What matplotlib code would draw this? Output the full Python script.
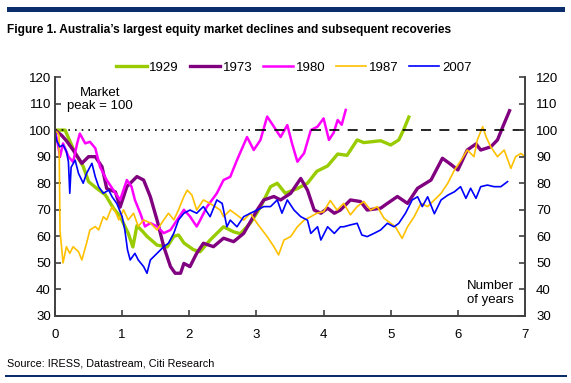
import matplotlib
matplotlib.use("Agg")
import matplotlib.pyplot as plt
from matplotlib.patches import Rectangle

plt.rcParams['font.family'] = ['Liberation Sans', 'DejaVu Sans']

# years after market peak, index (peak = 100)
t1929 = [0, 0.15, 0.3, 0.42, 0.5, 0.62, 0.75, 0.87, 0.97, 1.09,
         1.16, 1.22, 1.3, 1.37, 1.52, 1.67, 1.77, 1.84, 1.92, 2.06,
         2.16, 2.31, 2.51, 2.66, 2.76, 2.91, 3.06, 3.21, 3.31, 3.43,
         3.61, 3.76, 3.9, 4.06, 4.21, 4.35, 4.5, 4.6, 4.85, 5.0,
         5.12, 5.19, 5.27]
v1929 = [100, 100, 91.3, 86.3, 80.6, 78.1, 75.6, 70.6, 67.5, 61.2,
         56, 64, 62, 60, 56.7, 56, 60, 60.5, 57.5, 55,
         54.2, 58.6, 63.6, 61.7, 61, 65, 71, 78.7, 80, 76.2,
         78, 80, 84.5, 86.5, 91, 90.5, 96.3, 95.3, 96, 94.4,
         96.3, 100, 104.9]

t1973 = [0, 0.1, 0.17, 0.27, 0.4, 0.5, 0.6, 0.7, 0.77, 0.9, 0.97,
         1.07, 1.22, 1.32, 1.42, 1.52, 1.62, 1.72, 1.79, 1.87, 1.92,
         2.01, 2.11, 2.21, 2.36, 2.51, 2.66, 2.81, 3.01, 3.11, 3.26,
         3.36, 3.51, 3.66, 3.76, 3.86, 3.96, 4.06, 4.16, 4.25, 4.4,
         4.55, 4.65, 4.85, 4.95, 5.1, 5.25, 5.4, 5.6, 5.77, 5.9,
         6.0, 6.14, 6.27, 6.34, 6.49, 6.59, 6.67, 6.77]
v1973 = [100, 98, 96, 92.5, 87.5, 90, 90, 86.2, 78, 76.7, 71,
         78.7, 82.5, 81.2, 74.9, 66.1, 56.1, 48.6, 46.1, 46.1, 49.8,
         48.6, 53.6, 57.4, 56.1, 59.3, 58, 61.1, 69.9, 73.7, 75,
         73.7, 76.2, 81.8, 77.4, 69.9, 68.7, 70.6, 68.7, 69.9, 73.7,
         73.1, 69.9, 70.6, 72.4, 75, 72.4, 78.1, 81.2, 89.4, 87,
         85, 92.5, 94.8, 92.5, 93.7, 96.3, 101.3, 107.3]

t1980 = [0, 0.05, 0.075, 0.12, 0.2, 0.27, 0.33, 0.37, 0.45, 0.52,
         0.6, 0.67, 0.77, 0.87, 0.97, 1.07, 1.14, 1.19, 1.27, 1.34,
         1.42, 1.52, 1.62, 1.72, 1.82, 1.92, 2.01, 2.11, 2.16, 2.26,
         2.41, 2.51, 2.61, 2.71, 2.86, 2.96, 3.06, 3.16, 3.26, 3.36,
         3.46, 3.53, 3.61, 3.71, 3.81, 3.91, 4.0, 4.08, 4.15, 4.21,
         4.27, 4.33]
v1980 = [100, 93.7, 90, 95, 90, 88, 95, 98.7, 95, 95.6,
         93.2, 86.2, 81.2, 77.4, 73.7, 81.2, 78.7, 73.7, 68.7, 63.7,
         65, 63.7, 61.2, 62.4, 66.2, 70, 67.5, 63.7, 66, 71,
         76.2, 81.2, 82.4, 88.7, 97.4, 92.5, 96.3, 105.1, 101.3, 97.4,
         101.9, 95, 88.1, 91.3, 100, 101.3, 104.4, 96.3, 99, 103.8,
         102, 107.6]

t1987 = [0, 0.04, 0.06, 0.075, 0.12, 0.17, 0.22, 0.27, 0.35, 0.4,
         0.47, 0.52, 0.6, 0.65, 0.72, 0.77, 0.85, 0.9, 0.95, 1.02,
         1.09, 1.17, 1.24, 1.32, 1.42, 1.52, 1.62, 1.69, 1.77, 1.84,
         1.92, 1.97, 2.04, 2.11, 2.21, 2.31, 2.46, 2.51, 2.61, 2.81,
         2.91, 3.01, 3.16, 3.26, 3.33, 3.41, 3.51, 3.61, 3.71, 3.81,
         3.9, 4.0, 4.1, 4.2, 4.3, 4.4, 4.5, 4.6, 4.7, 4.8,
         4.9, 5.0, 5.07, 5.17, 5.25, 5.35, 5.45, 5.55, 5.65, 5.75,
         5.85, 5.95, 6.05, 6.14, 6.24, 6.29, 6.37, 6.42, 6.49, 6.59,
         6.69, 6.79, 6.86, 6.94, 7.0]
v1987 = [100, 99, 98, 62, 50, 56.1, 53.6, 56.1, 54.2, 51.1,
         57.4, 62.4, 63.7, 62.4, 67.4, 66.2, 71.2, 69.3, 66.2, 70,
         66.2, 68.7, 63.7, 66.2, 65, 62.4, 66.2, 68.7, 66.2, 70,
         75, 77.4, 75.5, 69.9, 73.7, 72.4, 69.9, 67.4, 69.9, 66.1,
         68.7, 64.9, 59.9, 56.1, 53, 58.6, 59.9, 63.6, 66.1, 67.4,
         68.7, 69.3, 73.5, 69.9, 72.4, 68.1, 71.2, 73.1, 69.9, 71.2,
         66.8, 64.9, 63.6, 59.2, 63.6, 67.4, 72.4, 71.2, 73.7, 76.2,
         80, 85, 88.7, 92.5, 90, 96.3, 101.3, 97.5, 93.7, 90,
         92.5, 85.6, 90, 91.2, 90]

t2007 = [0, 0.02, 0.07, 0.12, 0.17, 0.2, 0.22, 0.24, 0.3, 0.35,
         0.42, 0.47, 0.55, 0.6, 0.65, 0.72, 0.8, 0.85, 0.92, 1.0,
         1.04, 1.08, 1.12, 1.19, 1.24, 1.32, 1.37, 1.42, 1.52, 1.62,
         1.69, 1.77, 1.84, 1.92, 2.01, 2.11, 2.21, 2.31, 2.41, 2.49,
         2.56, 2.61, 2.71, 2.81, 2.91, 3.01, 3.11, 3.21, 3.31, 3.38,
         3.46, 3.56, 3.66, 3.76, 3.81, 3.91, 3.96, 4.06, 4.16, 4.25,
         4.3, 4.4, 4.5, 4.57, 4.65, 4.75, 4.85, 4.95, 5.05, 5.12,
         5.22, 5.32, 5.4, 5.47, 5.55, 5.65, 5.75, 5.85, 5.95, 6.04,
         6.12, 6.19, 6.27, 6.34, 6.44, 6.54, 6.64, 6.74]
v2007 = [100, 96.3, 93.7, 94.4, 92, 88, 76.2, 86, 88.7, 83.7,
         80, 83.7, 87.5, 82.4, 78.7, 76.2, 77.4, 74.9, 72.4, 67.4,
         62.4, 54.9, 51.1, 53.6, 51.1, 48.6, 46.1, 51.1, 53.6, 56.1,
         57.4, 61.2, 66.2, 68.7, 69.9, 68.7, 71.2, 67.4, 73.7, 72.4,
         63.6, 66.1, 63.6, 67.4, 68.7, 69.9, 71.2, 71.2, 73.7, 68.7,
         73.7, 69.9, 67.4, 66.1, 61.1, 63.6, 58.6, 63.6, 61.1, 63.6,
         63.6, 64.3, 64.9, 60.5, 59.9, 61.1, 62.4, 64.9, 63.6, 64.9,
         68.7, 73.7, 74.9, 71.2, 74.9, 68.5, 73.7, 75.5, 76.8, 78.7,
         74.3, 78.1, 74.3, 78.7, 79.3, 78.7, 78.7, 80.6]

yticks = [30, 40, 50, 60, 70, 80, 90, 100, 110, 120]
xticks = [0, 1, 2, 3, 4, 5, 6, 7]

navy = '#0B2D6B'
axis_col = '#404040'

fig = plt.figure(figsize=(5.71, 3.83), dpi=100)
ax = fig.add_axes([55/571, 67/383, 470/571, 239/383])

ax.plot(t1929, v1929, color='#99CC00', lw=2.4, label='1929')
ax.plot(t1973, v1973, color='#800080', lw=2.4, label='1973')
ax.plot(t1980, v1980, color='#FF00FF', lw=1.8, label='1980')
ax.plot(t1987, v1987, color='#FFC000', lw=1.2, label='1987')
ax.plot(t2007, v2007, color='#0000FF', lw=1.2, label='2007')

# market peak reference
ax.axhline(100, xmin=0, xmax=3/7, color='black', lw=1.2, ls=(0, (1, 3)))
ax.axhline(100, xmin=3/7, xmax=1, color='black', lw=1.2, ls=(0, (6, 5)))

ax.set_xlim(0, 7)
ax.set_ylim(30, 120)
ax.set_xticks(xticks)
ax.set_yticks(yticks)
for s in ['left', 'right', 'bottom']:
    ax.spines[s].set_color(axis_col)
    ax.spines[s].set_linewidth(1.4)
ax.spines['top'].set_visible(False)
ax.tick_params(direction='in', length=4, width=1.2, color=axis_col, labelsize=9.5)
ax.tick_params(axis='x', pad=9)
ax.tick_params(axis='y', pad=3)

ax2 = ax.twinx()
ax2.set_ylim(30, 120)
ax2.set_yticks(yticks)
for s in ['left', 'right', 'bottom', 'top']:
    ax2.spines[s].set_visible(False)
ax2.tick_params(direction='in', length=4, width=1.2, color=axis_col, labelsize=9.5, pad=8)

ax.text(0.67, 111.5, 'Market\npeak = 100', ha='center', va='center', fontsize=9.5, linespacing=1.15)
ax.text(6.48, 38.7, 'Number\nof years', ha='center', va='center', fontsize=9.5, linespacing=1.15)

fig.legend(loc='center', bbox_to_anchor=(294/571, 1 - 68/383), ncol=5, frameon=False,
           fontsize=9.5, handlelength=2.3, handletextpad=0.2, columnspacing=0.8)

fig.add_artist(Rectangle((7/571, 1 - 12/383), 558/571, 5/383, transform=fig.transFigure,
                         color=navy, lw=0))
fig.add_artist(Rectangle((5/571, 1 - 377/383), 562/571, 2/383, transform=fig.transFigure,
                         color=navy, lw=0))
fig.text(7/571, 1 - 30/383, "Figure 1. Australia\u2019s largest equity market declines and subsequent recoveries",
         fontsize=8.6, fontweight='bold', va='center', ha='left')
fig.text(7/571, 1 - 363/383, 'Source: IRESS, Datastream, Citi Research', fontsize=7.8,
         va='center', ha='left')

fig.savefig('out.png', dpi=100)
